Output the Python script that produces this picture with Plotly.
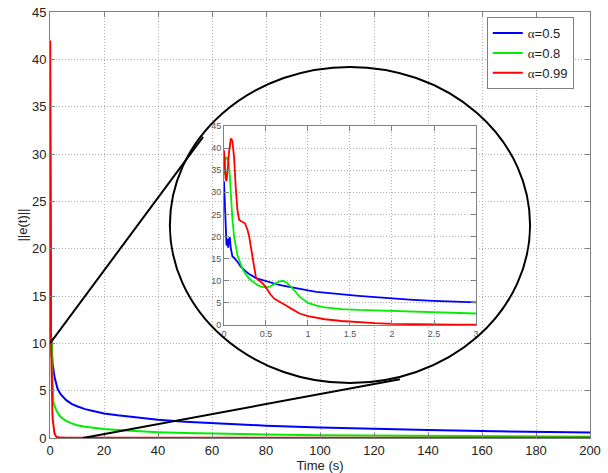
import plotly.graph_objects as go

# ---------------- data ----------------
# early-time samples (shown in the zoomed inset, 0..3 s)
t_early = [0, 0.01, 0.02, 0.03, 0.04, 0.05, 0.06, 0.07, 0.08, 0.09, 0.10, 0.12, 0.13,
           0.14, 0.16, 0.17, 0.18, 0.20, 0.22, 0.25, 0.28, 0.30, 0.33, 0.36, 0.38, 0.40,
           0.45, 0.50, 0.55, 0.60, 0.65, 0.70, 0.75, 0.80, 0.85, 0.90, 1.0, 1.1, 1.2,
           1.4, 1.6, 1.8, 2.0, 2.25, 2.5, 2.75, 3.0]
blue_early = [32.5, 28, 22, 18, 19.5, 17.5, 19.5, 19.8, 17.5, 16, 15.5, 15.2, 15.0,
              14.7, 14.2, 14.0, 13.8, 13.2, 12.8, 12.3, 11.8, 11.5, 11.1, 10.8, 10.6, 10.5,
              10.2, 9.9, 9.6, 9.3, 9.1, 8.9, 8.7, 8.5, 8.3, 8.1, 7.8, 7.5, 7.3,
              7.0, 6.6, 6.3, 6.0, 5.7, 5.45, 5.25, 5.1]
green_early = [34, 36, 38, 37.5, 38, 37, 36, 33.5, 30, 26.5, 24, 20, 18.8,
               17.5, 15.8, 15.2, 14.6, 13.5, 12.7, 11.7, 10.9, 10.5, 10.0, 9.5, 9.2, 9.0,
               8.6, 8.5, 8.7, 9.2, 9.8, 10.0, 9.5, 8.6, 7.4, 6.4, 5.0, 4.4, 4.0,
               3.6, 3.4, 3.3, 3.2, 3.0, 2.85, 2.7, 2.6]
red_early = [39.5, 36, 33, 32.5, 34, 36.5, 39, 41, 42, 42, 41.5, 38, 34,
             31, 26, 24.5, 23.8, 23.5, 23.3, 23, 21.5, 20, 16.5, 12.5, 10.8, 10.3,
             9.6, 8.5, 7.0, 5.9, 5.4, 4.9, 4.3, 3.7, 3.1, 2.6, 2.0, 1.6, 1.3,
             0.9, 0.6, 0.4, 0.25, 0.15, 0.1, 0.08, 0.05]

# later samples (main axes, 3..200 s)
t_late = [4, 6, 8, 10, 13, 16, 20, 25, 30, 40, 50, 60, 80, 100, 120, 140, 160, 180, 200]
blue_late = [4.6, 4.0, 3.6, 3.35, 3.05, 2.85, 2.6, 2.4, 2.22, 1.92, 1.72, 1.56, 1.3,
             1.12, 0.95, 0.84, 0.74, 0.65, 0.57]
green_late = [2.2, 1.8, 1.55, 1.35, 1.18, 1.05, 0.95, 0.85, 0.75, 0.62, 0.52, 0.46, 0.37,
              0.3, 0.26, 0.22, 0.18, 0.15, 0.12]
red_late = [0.04, 0.03, 0.03, 0.03, 0.03, 0.03, 0.03, 0.03, 0.03, 0.03, 0.03, 0.03, 0.03,
            0.03, 0.03, 0.03, 0.03, 0.03, 0.03]

series_names = ["<span style='font-family:Liberation Serif'>α</span>=0.5",
                "<span style='font-family:Liberation Serif'>α</span>=0.8",
                "<span style='font-family:Liberation Serif'>α</span>=0.99"]
series_colors = ["#0000ff", "#00ee00", "#ff0000"]

# zoom decoration (main-axes data units)
ellipse_x = [44.4, 177.8]
ellipse_y = [5.8, 39.2]
connector_a = ([0, 56.7], [10, 31.8])
connector_b = ([12.2, 129.6], [0, 6.2])

x_ticks = [0, 20, 40, 60, 80, 100, 120, 140, 160, 180, 200]
y_ticks = [0, 5, 10, 15, 20, 25, 30, 35, 40, 45]
xi_ticks = [0, 0.5, 1, 1.5, 2, 2.5, 3]

# ---------------- figure ----------------
fig = go.Figure()
early = [blue_early, green_early, red_early]
late = [blue_late, green_late, red_late]
t_all = t_early + t_late
for name, col, e, l in zip(series_names, series_colors, early, late):
    fig.add_trace(go.Scatter(x=t_all, y=e + l, mode="lines", name=name,
                             line=dict(color=col, width=2), xaxis="x", yaxis="y"))
for name, col, e in zip(series_names, series_colors, early):
    fig.add_trace(go.Scatter(x=t_early, y=e, mode="lines", name=name, showlegend=False,
                             line=dict(color=col, width=1.8), xaxis="x2", yaxis="y2"))

font_main = "Liberation Sans, Arial, sans-serif"
axis_common = dict(showgrid=True, gridcolor="#b0b0b0", griddash="1px,2px", gridwidth=1,
                   zeroline=False, showline=True, linecolor="#808080", linewidth=1,
                   mirror="ticks", ticks="inside", ticklen=5, tickcolor="#808080")

fig.update_layout(
    width=608, height=473,
    margin=dict(l=50, r=18, t=12, b=35),
    paper_bgcolor="white", plot_bgcolor="white",
    font=dict(family=font_main, size=13, color="#222"),
    xaxis=dict(domain=[0, 1], range=[0, 200], tickvals=x_ticks, anchor="y",
               title=dict(text="Time (s)", standoff=2, font=dict(size=13)),
               automargin=False, **axis_common),
    yaxis=dict(domain=[0, 1], range=[0, 45], tickvals=y_ticks, anchor="x",
               title=dict(text="||e(t)||", standoff=1, font=dict(size=13)),
               automargin=False, **axis_common),
    xaxis2=dict(domain=[0.3222, 0.7889], range=[0, 3], tickvals=xi_ticks, anchor="y2",
                tickfont=dict(size=9, color="#555"), automargin=False, **axis_common),
    yaxis2=dict(domain=[0.2653, 0.7324], range=[0, 45], tickvals=y_ticks, anchor="x2",
                tickfont=dict(size=9, color="#555"), automargin=False, **axis_common),
    legend=dict(x=0.97, y=0.988, xanchor="right", yanchor="top",
                bgcolor="white", bordercolor="#808080", borderwidth=1,
                font=dict(size=13, color="#222"), tracegroupgap=0),
    showlegend=True,
)

fig.add_shape(type="circle", xref="x", yref="y",
              x0=ellipse_x[0], x1=ellipse_x[1], y0=ellipse_y[0], y1=ellipse_y[1],
              line=dict(color="black", width=2))
for cx, cy in (connector_a, connector_b):
    fig.add_shape(type="line", xref="x", yref="y", x0=cx[0], x1=cx[1], y0=cy[0], y1=cy[1],
                  line=dict(color="black", width=2))

fig.write_html("out.html", config={"displayModeBar": False},
               post_script="document.body.style.margin='0';")
